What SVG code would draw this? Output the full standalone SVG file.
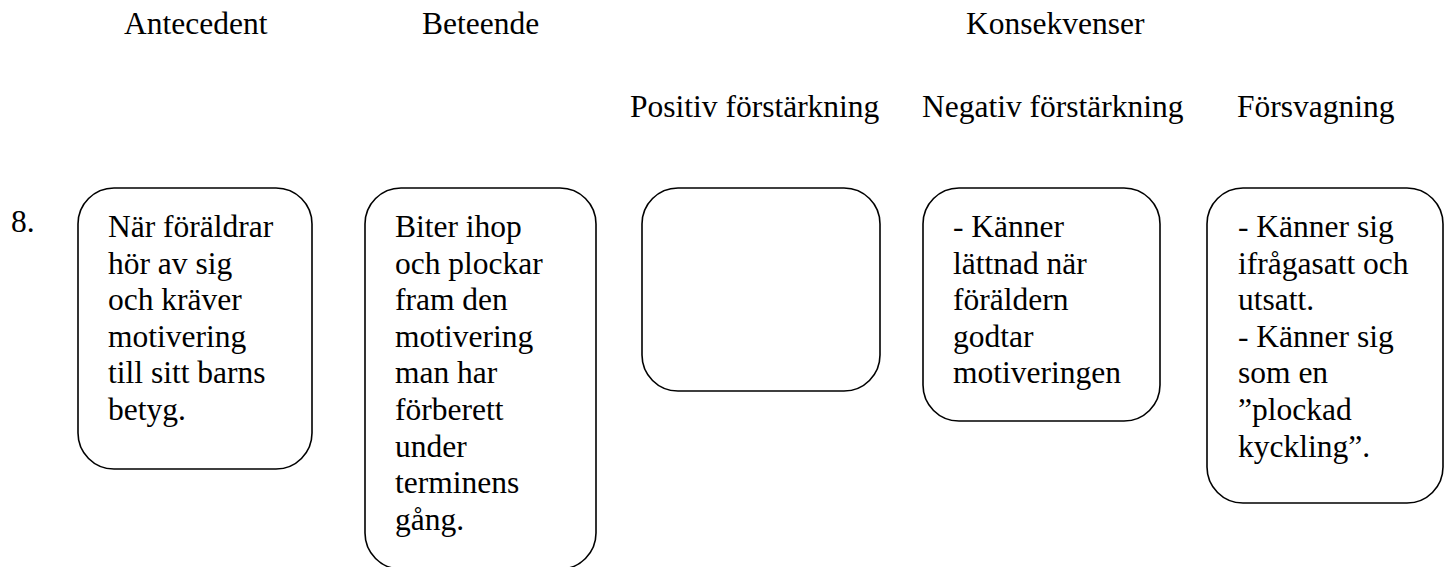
<svg xmlns="http://www.w3.org/2000/svg" width="1448" height="567" viewBox="0 0 1448 567">
<style>
text{font-family:"Liberation Serif","Times New Roman",serif;font-size:31.5px;fill:#000}
.box{fill:#fff;stroke:#000;stroke-width:1.6}
</style>
<rect width="1448" height="567" fill="#fff"/>
<g id="headers">
<text x="124" y="34">Antecedent</text>
<text x="422" y="34">Beteende</text>
<text x="966" y="34">Konsekvenser</text>
<text x="630" y="117">Positiv förstärkning</text>
<text x="922" y="117">Negativ förstärkning</text>
<text x="1237" y="117">Försvagning</text>
<text x="11" y="232">8.</text>
</g>
<g id="connectors"></g>
<g id="node-antecedent">
<rect class="box" x="78" y="188" width="234" height="281" rx="36"/>
<text x="108" y="237">När föräldrar</text>
<text x="108" y="273.6">hör av sig</text>
<text x="108" y="310.2">och kräver</text>
<text x="108" y="346.8">motivering</text>
<text x="108" y="383.4">till sitt barns</text>
<text x="108" y="420">betyg.</text>
</g>
<g id="node-beteende">
<rect class="box" x="365" y="188" width="231" height="381" rx="36"/>
<text x="395" y="237">Biter ihop</text>
<text x="395" y="273.6">och plockar</text>
<text x="395" y="310.2">fram den</text>
<text x="395" y="346.8">motivering</text>
<text x="395" y="383.4">man har</text>
<text x="395" y="420">förberett</text>
<text x="395" y="456.6">under</text>
<text x="395" y="493.2">terminens</text>
<text x="395" y="529.8">gång.</text>
</g>
<g id="node-positiv">
<rect class="box" x="642" y="188" width="238" height="203" rx="36"/>
</g>
<g id="node-negativ">
<rect class="box" x="923" y="188" width="237" height="233" rx="36"/>
<text x="953" y="237">- Känner</text>
<text x="953" y="273.6">lättnad när</text>
<text x="953" y="310.2">föräldern</text>
<text x="953" y="346.8">godtar</text>
<text x="953" y="383.4">motiveringen</text>
</g>
<g id="node-forsvagning">
<rect class="box" x="1207" y="188" width="236" height="315" rx="36"/>
<text x="1238" y="237">- Känner sig</text>
<text x="1238" y="273.6">ifrågasatt och</text>
<text x="1238" y="310.2">utsatt.</text>
<text x="1238" y="346.8">- Känner sig</text>
<text x="1238" y="383.4">som en</text>
<text x="1238" y="420">”plockad</text>
<text x="1238" y="456.6">kyckling”.</text>
</g>
</svg>
